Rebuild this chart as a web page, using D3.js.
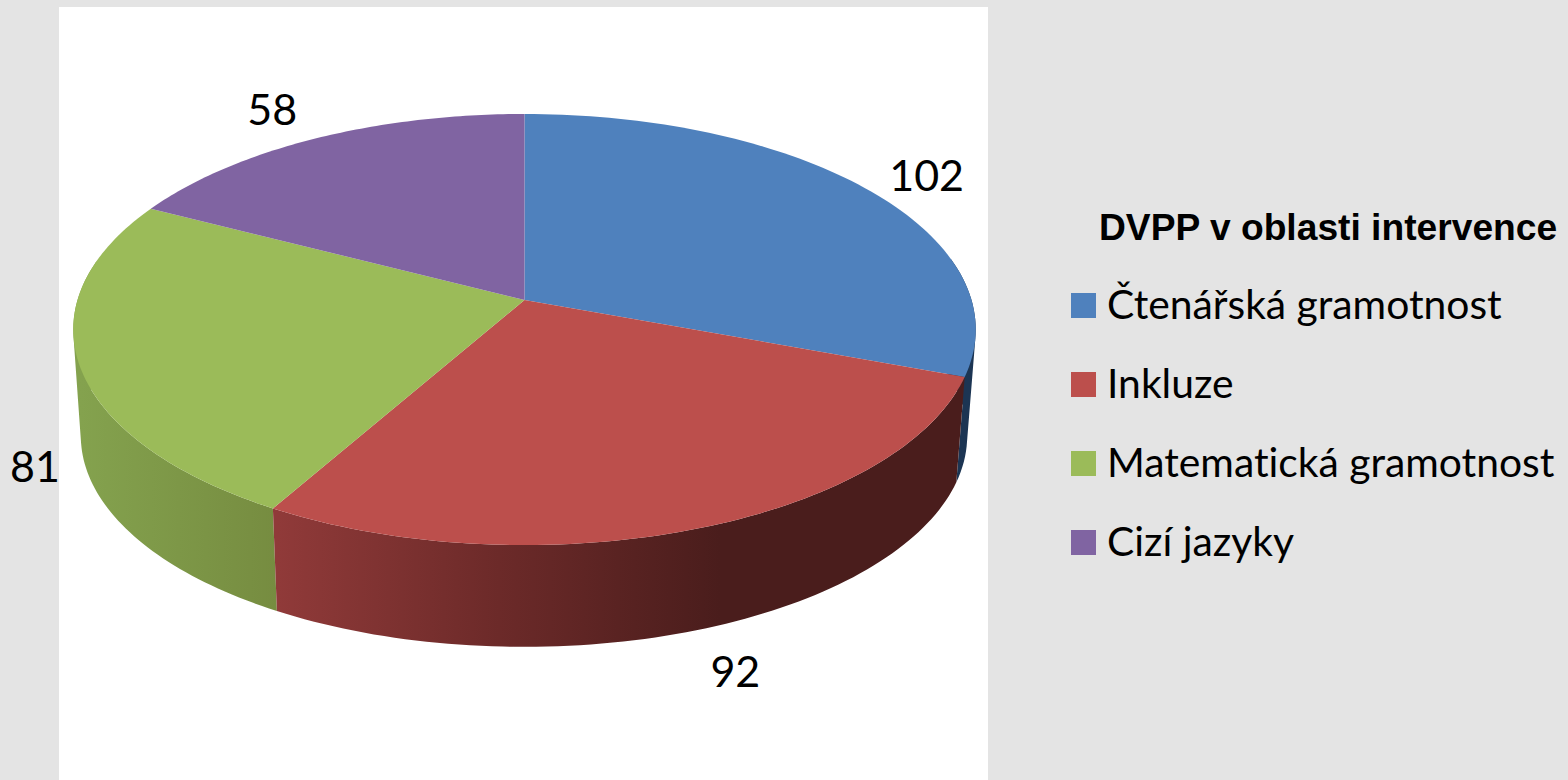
<!DOCTYPE html>
<html><head><meta charset="utf-8">
<script src="https://cdn.jsdelivr.net/npm/d3@7"></script>
<style>html,body{margin:0;padding:0;background:#e4e4e4;overflow:hidden}svg{display:block}text{font-variant-ligatures:none}</style>
</head><body><svg id="c" width="1568" height="780"></svg>
<script>
const legendTitle = "DVPP v oblasti intervence";
const categories = ["Čtenářská gramotnost","Inkluze","Matematická gramotnost","Cizí jazyky"];
const values = [102,92,81,58];
const topColors = ["#4f81bd","#bc4f4c","#9bbb59","#8064a2"];

const svg = d3.select("#c");
svg.append("rect").attr("x",59).attr("y",7).attr("width",929).attr("height",773).attr("fill","#fff");

// perspective projection of the tilted disc
const k = 0.137;
const project = (disc, t) => {
  const u = Math.sin(t), v = Math.cos(t), d = 1 + k*v;
  return [disc.cx + disc.b*u/d, disc.cy - disc.a*v/d];
};
const topDisc = {cx:524.5, cy:300, a:211.5, b:447};
const botDisc = {cx:524, cy:407, a:207, b:439};

const arcs = d3.pie().sort(null)(values);
const line = d3.line();
const samples = (a0,a1) => d3.range(0,81).map(i => a0 + (a1-a0)*i/80);

const defs = svg.append("defs");
function grad(id, x1, x2, stops){
  const g = defs.append("linearGradient").attr("id",id).attr("gradientUnits","userSpaceOnUse")
    .attr("x1",x1).attr("x2",x2).attr("y1",0).attr("y2",0);
  stops.forEach(s => g.append("stop").attr("offset",s[0]).attr("stop-color",s[1]));
}
grad("sideRed",278,720,[[0,"#903a39"],[0.5,"#6c2a29"],[1,"#4a1d1c"]]);
grad("sideGreen",80,278,[[0,"#84a24e"],[1,"#768c40"]]);

const sideFill = ["#1c3553","url(#sideRed)","url(#sideGreen)","#4f3e65"];
// rim swept from the top disc to the bottom disc, back to front;
// only the near part of the rim can be seen, and each small quad is
// wound the same way so one path fills without seams
[0,2,1].forEach(i => {
  const a = arcs[i];
  const ts = samples(a.startAngle,a.endAngle).filter(t => Math.cos(t) < 0.2);
  const d = d3.pairs(ts).map(([t0,t1]) => {
    const q = [project(topDisc,t0),project(topDisc,t1),project(botDisc,t1),project(botDisc,t0)];
    if (d3.polygonArea(q) < 0) q.reverse();
    return line(q)+"Z";
  }).join("");
  svg.append("path").attr("d",d).attr("fill",sideFill[i]).attr("fill-rule","nonzero");
});
// top faces
arcs.forEach((a,i) => {
  const pts = [[topDisc.cx,topDisc.cy]].concat(samples(a.startAngle,a.endAngle).map(t=>project(topDisc,t)));
  svg.append("path").attr("d",line(pts)+"Z").attr("fill",topColors[i]);
});

// data labels, offset from the rim at each slice's middle angle
const labelOffsets = [[62,-13],[39,40],[-51,-3],[-44,-30]];
const labelRim = [topDisc,botDisc,botDisc,topDisc];
arcs.forEach((a,i) => {
  const p = project(labelRim[i],(a.startAngle+a.endAngle)/2);
  svg.append("text").attr("x",p[0]+labelOffsets[i][0]).attr("y",p[1]+labelOffsets[i][1])
    .attr("text-anchor","middle").attr("dominant-baseline","central")
    .attr("font-family","Lato").attr("font-size",43).attr("fill","#000").text(values[i]);
});

// legend
svg.append("text").attr("x",1099).attr("y",240).attr("font-family","Liberation Sans")
  .attr("font-weight",700).attr("font-size",37.2).attr("fill","#000").text(legendTitle);
const legendY = d3.scalePoint().domain(categories).range([305.5,542.5]);
categories.forEach((c,i) => {
  const y = legendY(c);
  svg.append("rect").attr("x",1071).attr("y",y-12.5).attr("width",25).attr("height",25).attr("fill",topColors[i]);
  svg.append("text").attr("x",1107).attr("y",y+13).attr("font-family","Lato")
    .attr("font-size",40.8).attr("fill","#000").text(c);
});
</script></body></html>
